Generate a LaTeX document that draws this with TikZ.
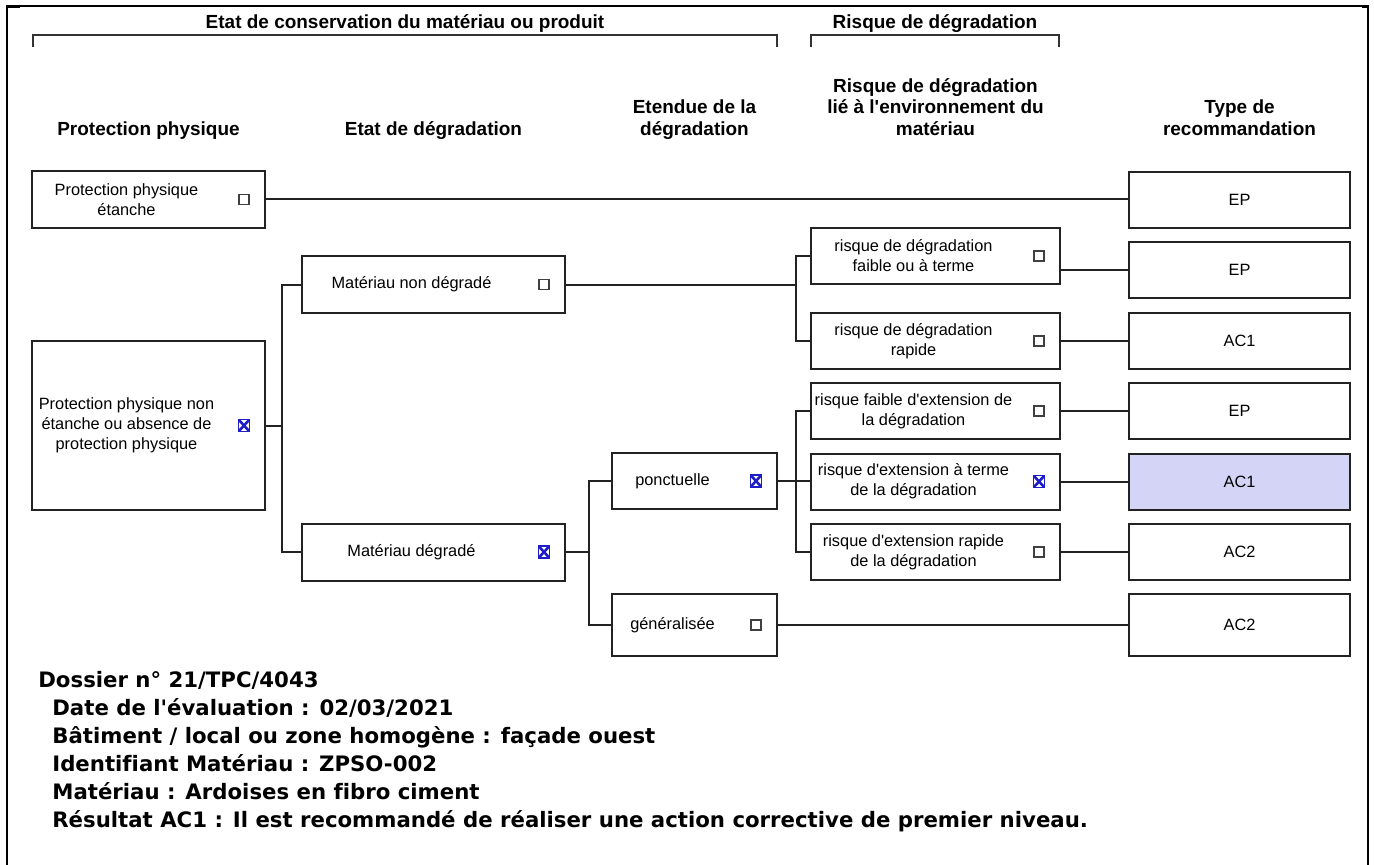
\documentclass[tikz,border=0pt]{standalone}
\usepackage{fontspec}
\newfontfamily\diagfont{Liberation Sans}
\newfontfamily\notefont[Ligatures=NoCommon]{DejaVu Sans}
\usetikzlibrary{positioning,calc}
\newlength\pxu
\setlength\pxu{0.02cm}
\definecolor{hilite}{HTML}{D4D4F7}
\definecolor{crossblue}{HTML}{1E1EC8}
\definecolor{linegray}{HTML}{222222}
% one criterion: name, x, y, width, height, check style, text
\newcommand\choice[7]{%
  \node[crit,minimum width=#4\pxu,minimum height=#5\pxu] (#1) at (#2,#3) {};
  \node[crittext] (#1t) at ([xshift=-22\pxu]#1.center) {#7};
  \node[#6] (#1c) at ([xshift=-22\pxu]#1.east) {};}
\begin{document}
\begin{tikzpicture}
[x=0.02cm,y=-0.02cm,
%
crit/.style={draw=linegray,line width=2\pxu,minimum height=56\pxu,inner sep=0pt},
crittext/.style={font=\diagfont\fontsize{9.3}{11.4}\selectfont,align=center,inner sep=0pt},
reco/.style={crit,minimum width=221\pxu,font=\diagfont\fontsize{9.3}{11.4}\selectfont},
nochk/.style={draw=black!75,line width=1.3\pxu,minimum size=10\pxu,inner sep=0pt},
yeschk/.style={draw=crossblue,line width=1.4\pxu,minimum width=11\pxu,minimum height=12\pxu,inner sep=0pt,
  path picture={\draw[crossblue,line width=2.6\pxu]
    (path picture bounding box.north west) -- (path picture bounding box.south east)
    (path picture bounding box.south west) -- (path picture bounding box.north east);}},
head/.style={font=\diagfont\bfseries\fontsize{10.8}{12.2}\selectfont,align=center,inner sep=0pt},
note/.style={font=\notefont\bfseries\fontsize{12.1}{15.9}\selectfont,anchor=base west,inner sep=0pt},
%
link/.style={draw=linegray,line width=2\pxu},
brk/.style={draw=black!80,line width=2.5\pxu},
frame/.style={draw=black,line width=2.5\pxu}]
%
\useasboundingbox (0,0) rectangle (1374,865);
%
%% frame
\draw[frame] (7,865) -- (7,6);
\draw[frame] (1368,6) -- (1368,865);
\draw[line width=1.5\pxu] (7,6) -- (1368,6);
\draw[line width=3\pxu] (6,7) -- (20,7);
\draw[line width=3\pxu] (1362,7) -- (1369,7);
%
%% headers
\node[head,anchor=base] (hcons) at (405,29) {Etat de conservation du matériau ou produit};
\node[head,anchor=base] (hrisk) at (935,29) {Risque de dégradation};
\draw[brk] (33,47) -- (33,35) -- (777,35) -- (777,47);
\draw[brk] (811,47) -- (811,35) -- (1059,35) -- (1059,47);
\node[head,anchor=south] (hprot) at (148.5,142) {Protection physique\strut};
\node[head,anchor=south] (hetat) at (433.5,142) {Etat de dégradation\strut};
\node[head,anchor=south] (hext) at (694.5,142) {Etendue de la\\dégradation\strut};
\node[head,anchor=south] (henv) at (935.5,142) {Risque de dégradation\\lié à l'environnement du\\matériau\strut};
\node[head,anchor=south] (hreco) at (1239.5,142) {Type de\\recommandation\strut};
%
%% criteria
\choice{pe}{148.5}{199.5}{233}{57}{nochk}{Protection physique\\étanche}
\choice{pne}{148.5}{425.5}{233}{169}{yeschk}{Protection physique non\\étanche ou absence de\\protection physique}
\choice{mnd}{433.5}{284.5}{263}{57}{nochk}{Matériau non dégradé}
\choice{md}{433.5}{552}{263}{57}{yeschk}{Matériau dégradé}
\choice{pon}{694.5}{481}{165}{56}{yeschk}{ponctuelle}
\choice{gen}{694.5}{625}{165}{62}{nochk}{généralisée}
\choice{rfa}{935.5}{256}{249}{56}{nochk}{risque de dégradation\\faible ou à terme}
\choice{rra}{935.5}{341}{249}{56}{nochk}{risque de dégradation\\rapide}
\choice{efa}{935.5}{411}{249}{56}{nochk}{risque faible d'extension de\\la dégradation}
\choice{ete}{935.5}{481.5}{249}{56}{yeschk}{risque d'extension à terme\\de la dégradation}
\choice{era}{935.5}{552}{249}{56}{nochk}{risque d'extension rapide\\de la dégradation}
%
%% recommendations
\node[reco] (ep1) at (1239.5,200) {EP};
\node[reco] (ep2) at (1239.5,270) {EP};
\node[reco] (ac1a) at (1239.5,341) {AC1};
\node[reco] (ep3) at (1239.5,411) {EP};
\node[reco,fill=hilite] (ac1b) at (1239.5,481.5) {AC1};
\node[reco] (ac2a) at (1239.5,552) {AC2};
\node[reco,minimum height=62\pxu] (ac2b) at (1239.5,625) {AC2};
%
%% connectors
\coordinate (bus1) at (282,0);
\coordinate (bus2) at (589,0);
\coordinate (bus3) at (796,0);
\draw[link] (pe.east) -- (pe.east -| ep1.west);
\draw[link] (pne.east) -- (pne.east -| bus1);
\draw[link] (mnd.west) -- (mnd.west -| bus1) -- (md.west -| bus1) -- (md.west);
\draw[link] (mnd.east) -- (mnd.east -| bus3);
\draw[link] (rfa.west) -- (rfa.west -| bus3) -- (rra.west -| bus3) -- (rra.west);
\draw[link] (ep2.west) -- (ep2.west -| rfa.east);
\draw[link] (rra.east) -- (rra.east -| ac1a.west);
\draw[link] (efa.east) -- (efa.east -| ep3.west);
\draw[link] (ete.east) -- (ete.east -| ac1b.west);
\draw[link] (era.east) -- (era.east -| ac2a.west);
\draw[link] (md.east) -- (md.east -| bus2);
\draw[link] (pon.west) -- (pon.west -| bus2) -- (gen.west -| bus2) -- (gen.west);
\draw[link] (pon.east) -- (pon.east -| ete.west);
\draw[link] (efa.west) -- (efa.west -| bus3) -- (era.west -| bus3) -- (era.west);
\draw[link] (gen.east) -- (gen.east -| ac2b.west);
%
%% result
\node[note] (dos) at (38,687) {Dossier n° 21/TPC/4043};
\node[note] (date) at (52,715) {Date de l'évaluation : 02/03/2021};
\node[note] (bat) at (52,743) {Bâtiment / local ou zone homogène : façade ouest};
\node[note] (ident) at (52,771) {Identifiant Matériau : ZPSO-002};
\node[note] (mat) at (52,799) {Matériau : Ardoises en fibro ciment};
\node[note] (res) at (52,827) {Résultat AC1 : Il est recommandé de réaliser une action corrective de premier niveau.};
\end{tikzpicture}
\end{document}
